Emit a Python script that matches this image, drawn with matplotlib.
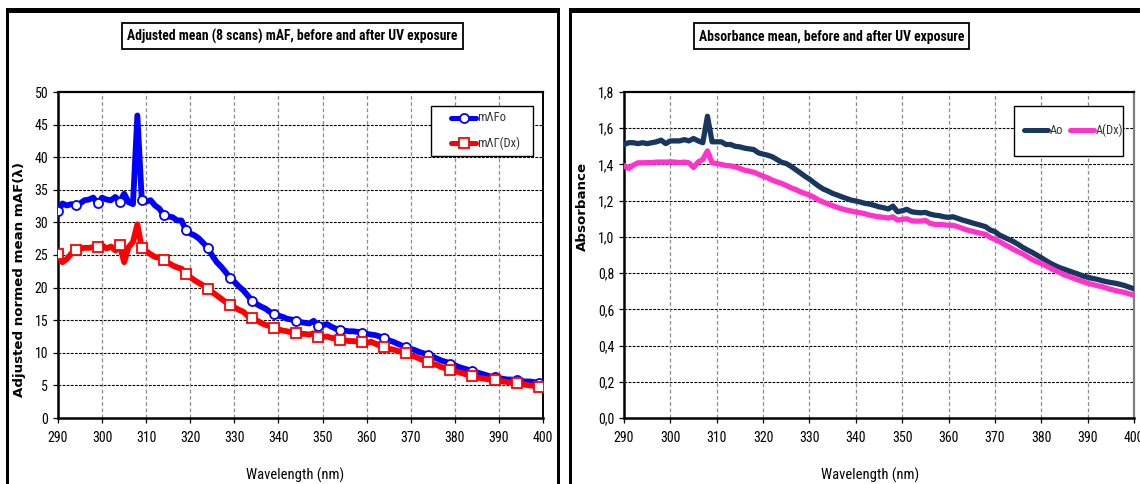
import matplotlib
matplotlib.use("Agg")
import matplotlib.pyplot as plt
from matplotlib import font_manager as fm
from matplotlib.patches import Rectangle
from matplotlib.lines import Line2D

# ---------------- data ----------------
wavelength = list(range(290, 401))

maf0 = [31.7, 32.9, 32.6, 32.8, 32.6, 32.9, 33.4, 33.5, 33.8, 32.9,
        33.8, 33.5, 33.4, 33.9, 33.2, 34.4, 33.1, 32.8, 46.4, 33.5,
        33.2, 33.4, 32.6, 32.1, 31.1, 30.9, 30.8, 30.3, 30.3, 28.8,
        28.3, 28.0, 27.5, 26.8, 26.1, 24.9, 23.9, 23.2, 22.4, 21.5,
        20.9, 20.2, 19.6, 18.8, 18.0, 17.5, 17.1, 16.8, 16.3, 16.0,
        15.7, 15.5, 15.2, 15.1, 14.9, 14.7, 14.6, 14.5, 14.9, 14.1,
        14.2, 14.4, 14.0, 13.7, 13.5, 13.4, 13.3, 13.3, 13.2, 13.0,
        12.9, 12.8, 12.7, 12.5, 12.3, 11.9, 11.7, 11.4, 11.1, 10.9,
        10.6, 10.4, 10.1, 9.9, 9.6, 9.4, 9.1, 8.8, 8.6, 8.3,
        8.1, 7.8, 7.6, 7.4, 7.2, 7.0, 6.8, 6.6, 6.4, 6.3,
        6.1, 6.0, 5.9, 5.9, 5.8, 5.7, 5.6, 5.6, 5.5, 5.4,
        5.3]

maf_dx = [25.2, 23.9, 24.4, 25.2, 25.8, 26.0, 26.1, 26.1, 26.2, 26.3,
          26.5, 26.0, 26.3, 25.7, 26.5, 23.9, 26.2, 27.0, 29.7, 26.0,
          25.6, 25.1, 24.7, 24.6, 24.3, 23.8, 23.4, 23.1, 22.9, 22.1,
          21.6, 21.1, 20.7, 20.3, 19.8, 19.3, 18.8, 18.3, 17.8, 17.4,
          17.0, 16.6, 16.3, 15.7, 15.3, 15.0, 14.6, 14.3, 14.1, 13.8,
          13.6, 13.4, 13.3, 13.1, 13.0, 12.9, 12.9, 12.8, 13.0, 12.4,
          12.4, 12.5, 12.3, 12.2, 12.0, 11.9, 11.8, 11.8, 11.7, 11.6,
          11.5, 11.7, 11.4, 11.1, 10.9, 10.6, 10.5, 10.3, 10.1, 9.9,
          9.6, 9.4, 9.1, 8.8, 8.6, 8.3, 8.1, 7.8, 7.6, 7.4,
          7.2, 7.0, 6.8, 6.6, 6.4, 6.2, 6.1, 6.0, 5.9, 5.8,
          5.7, 5.6, 5.5, 5.4, 5.3, 5.2, 5.1, 5.0, 4.9, 4.8,
          4.7]

marker_nm = [290, 294, 299, 304, 309, 314, 319, 324, 329, 334, 339, 344,
             349, 354, 359, 364, 369, 374, 379, 384, 389, 394, 399]

a0 = [1.510, 1.520, 1.520, 1.515, 1.520, 1.515, 1.520, 1.525, 1.534, 1.515,
      1.530, 1.530, 1.530, 1.537, 1.530, 1.543, 1.530, 1.520, 1.666, 1.525,
      1.525, 1.525, 1.510, 1.510, 1.500, 1.497, 1.490, 1.486, 1.482, 1.464,
      1.457, 1.451, 1.442, 1.427, 1.412, 1.405, 1.390, 1.372, 1.354, 1.335,
      1.319, 1.299, 1.280, 1.264, 1.253, 1.240, 1.231, 1.221, 1.212, 1.203,
      1.198, 1.192, 1.185, 1.181, 1.174, 1.166, 1.161, 1.154, 1.170, 1.139,
      1.144, 1.152, 1.139, 1.135, 1.133, 1.135, 1.126, 1.120, 1.117, 1.111,
      1.108, 1.111, 1.102, 1.093, 1.086, 1.078, 1.071, 1.064, 1.056, 1.038,
      1.029, 1.010, 0.998, 0.986, 0.974, 0.959, 0.942, 0.928, 0.915, 0.900,
      0.885, 0.869, 0.854, 0.841, 0.830, 0.821, 0.812, 0.803, 0.794, 0.784,
      0.777, 0.771, 0.766, 0.759, 0.753, 0.748, 0.744, 0.738, 0.731, 0.722,
      0.713]

a_dx = [1.392, 1.378, 1.396, 1.409, 1.409, 1.410, 1.410, 1.413, 1.413, 1.413,
        1.414, 1.413, 1.410, 1.413, 1.409, 1.383, 1.414, 1.427, 1.475, 1.409,
        1.405, 1.400, 1.394, 1.392, 1.387, 1.378, 1.368, 1.363, 1.357, 1.346,
        1.335, 1.326, 1.313, 1.304, 1.295, 1.284, 1.271, 1.262, 1.249, 1.240,
        1.231, 1.218, 1.203, 1.192, 1.181, 1.172, 1.163, 1.155, 1.148, 1.143,
        1.137, 1.133, 1.128, 1.120, 1.115, 1.111, 1.108, 1.104, 1.111, 1.093,
        1.097, 1.100, 1.089, 1.087, 1.087, 1.091, 1.075, 1.069, 1.069, 1.067,
        1.064, 1.064, 1.056, 1.047, 1.038, 1.032, 1.025, 1.019, 1.014, 0.997,
        0.986, 0.974, 0.959, 0.946, 0.931, 0.918, 0.906, 0.891, 0.876, 0.863,
        0.854, 0.841, 0.827, 0.814, 0.803, 0.790, 0.781, 0.771, 0.762, 0.753,
        0.744, 0.738, 0.731, 0.726, 0.718, 0.711, 0.704, 0.698, 0.693, 0.685,
        0.678]

left_title = "Adjusted mean (8 scans) mAF, before and after UV exposure"
right_title = "Absorbance mean, before and after UV exposure"
left_ylabel = "Adjusted normed mean mAF(λ)"
right_ylabel = "Absorbance"
xlabel = "Wavelength (nm)"
left_labels = ["mΛFo", "mΛΓ(Dx)"]
right_labels = ["Ao", "A(Dx)"]
x_ticks = list(range(290, 401, 10))
left_yticks = list(range(0, 51, 5))
right_yticks = [0.0, 0.2, 0.4, 0.6, 0.8, 1.0, 1.2, 1.4, 1.6, 1.8]

# ---------------- styling ----------------
W, H = 1140, 484
BLUE, RED = "#0000FF", "#FF0000"
NAVY, PINK = "#17375E", "#FF33CC"


def pick_narrow_font():
    entries = fm.fontManager.ttflist
    names = {f.name for f in entries}
    for cand in ("Liberation Sans Narrow", "Arial Narrow", "Roboto Condensed",
                 "Noto Sans Condensed", "Open Sans Condensed", "DejaVu Sans Condensed"):
        if cand in names:
            return dict(family=cand)
    narrow = ("condensed", "semi-condensed", "extra-condensed", "ultra-condensed")
    for f in entries:
        if f.stretch in narrow and "Sans" in f.name and "Mono" not in f.name:
            return dict(family=f.name, stretch=f.stretch)
    for cand in ("Noto Sans CJK JP", "Noto Sans CJK SC", "Liberation Sans"):
        if cand in names:
            return dict(family=cand)
    return dict(family="DejaVu Sans")


NARROW = pick_narrow_font()


def fx(x):
    return x / W


def fy(y):
    return 1 - y / H


def axes_box(x0, y0, x1, y1):
    return [fx(x0), fy(y1), (x1 - x0) / W, (y1 - y0) / H]


fig = plt.figure(figsize=(W / 100, H / 100), dpi=100)
fig.patch.set_facecolor("white")
renderer = fig.canvas.get_renderer()


# panel frames (thick black edges)
def frame_bar(x0, y0, x1, y1):
    fig.patches.append(Rectangle((fx(x0), fy(y1)), (x1 - x0) / W, (y1 - y0) / H,
                                 transform=fig.transFigure, facecolor="black",
                                 edgecolor="none", zorder=0))

frame_bar(6, 8, 560, 13)
frame_bar(6, 8, 9, 490)
frame_bar(557, 8, 560, 490)
frame_bar(569, 8, 1145, 13)
frame_bar(569, 8, 572, 490)


def style_axes(ax, yticks, ylabels, ylim):
    ax.set_xlim(290, 400)
    ax.set_ylim(*ylim)
    ax.set_xticks(x_ticks)
    ax.set_yticks(yticks)
    ax.set_yticklabels(ylabels)
    ax.set_xticklabels([str(t) for t in x_ticks])
    ax.grid(False)
    for t in yticks[1:-1]:
        ax.axhline(t, color="black", lw=0.8, ls=(0, (2.5, 1.2)), zorder=1)
    for t in x_ticks[1:-1]:
        ax.axvline(t, color="#8c8c8c", lw=0.9, ls=(0, (3, 2)), zorder=1)
    ax.tick_params(axis="both", direction="out", length=3.5, width=0.9,
                   color="black", labelsize=10)
    ax.tick_params(axis="x", pad=6)
    ax.tick_params(axis="y", pad=3.5)
    for lab in ax.get_xticklabels() + ax.get_yticklabels():
        lab.set(**NARROW)
    ax.spines["left"].set_linewidth(1.8)
    ax.spines["bottom"].set_linewidth(1.8)
    ax.spines["top"].set_linewidth(1.6)
    ax.spines["right"].set_linewidth(1.4)


# ---------------- left chart ----------------
axL = fig.add_axes(axes_box(58, 92, 543, 418))
marker_idx = [wavelength.index(n) for n in marker_nm]
axL.plot(wavelength, maf0, color=BLUE, lw=4.2, marker="o", markevery=marker_idx,
         ms=6.5, mfc="white", mec=BLUE, mew=1.3, zorder=3, solid_joinstyle="round")
axL.plot(wavelength, maf_dx, color=RED, lw=4.2, marker="s", markevery=marker_idx,
         ms=6.5, mfc="white", mec=RED, mew=1.3, zorder=3, solid_joinstyle="round")
style_axes(axL, left_yticks, [str(t) for t in left_yticks], (0, 50))
axL.spines["right"].set_color("black")
axL.set_ylabel(left_ylabel, family="DejaVu Sans", weight="bold", fontsize=9.6)
axL.yaxis.set_label_coords(-0.066, 0.425)
axL.set_xlabel(xlabel, fontsize=10.5, **NARROW)
axL.xaxis.set_label_coords(0.489, -0.152)

# ---------------- right chart ----------------
axR = fig.add_axes(axes_box(624, 92, 1134, 418))
axR.plot(wavelength, a0, color=NAVY, lw=3.8, zorder=3, solid_joinstyle="round")
axR.plot(wavelength, a_dx, color=PINK, lw=3.8, zorder=3, solid_joinstyle="round")
style_axes(axR, right_yticks, [f"{t:.1f}".replace(".", ",") for t in right_yticks],
           (0, 1.8))
axR.spines["right"].set_color("#7f7f7f")
axR.spines["right"].set_linewidth(1.6)
axR.set_ylabel(right_ylabel, family="DejaVu Sans", weight="bold", fontsize=9.6)
axR.yaxis.set_label_coords(-0.0696, 0.649)
axR.set_xlabel(xlabel, fontsize=10.5, **NARROW)
axR.xaxis.set_label_coords(0.482, -0.152)


# ---------------- titles in boxes ----------------
def title_box(cx, text, size):
    t = fig.text(fx(cx), fy(36.5), text, ha="center", va="center",
                 fontsize=size, weight="bold", zorder=6, **NARROW)
    w = t.get_window_extent(renderer).width
    x0, x1 = cx - w / 2 - 5, cx + w / 2 + 5
    fig.patches.append(Rectangle((fx(x0), fy(49)), (x1 - x0) / W, 26 / H,
                                 transform=fig.transFigure, facecolor="white",
                                 edgecolor="black", lw=1.3, zorder=5))

title_box(292.5, left_title, 9.8)
title_box(831.5, right_title, 9.8)


# ---------------- legends ----------------
def legend_frame(x0, y0, x1, y1):
    fig.patches.append(Rectangle((fx(x0), fy(y1)), (x1 - x0) / W, (y1 - y0) / H,
                                 transform=fig.transFigure, facecolor="white",
                                 edgecolor="black", lw=1.0, zorder=7))


def legend_entry(x0, x1, y, color, label, lw, marker=None, mcolor=None):
    fig.lines.append(Line2D([fx(x0), fx(x1)], [fy(y), fy(y)], transform=fig.transFigure,
                            color=color, lw=lw, solid_capstyle="round", zorder=8))
    if marker:
        fig.lines.append(Line2D([fx((x0 + x1) / 2)], [fy(y)], transform=fig.transFigure,
                                marker=marker, ms=6.5, mfc="white", mec=mcolor,
                                mew=1.3, ls="none", zorder=9))
    fig.text(fx(x1 + 1.5), fy(y), label, ha="left", va="center", fontsize=9,
             color="#333333", zorder=9, **NARROW)


legend_frame(431, 106, 533, 156)
legend_entry(451, 476, 117.5, BLUE, left_labels[0], 3.6, "o", BLUE)
legend_entry(451, 476, 143, RED, left_labels[1], 3.6, "s", RED)

legend_frame(1014, 106, 1123, 156)
legend_entry(1024, 1048, 130, NAVY, right_labels[0], 3.6)
legend_entry(1070, 1094, 130, PINK, right_labels[1], 3.6)

fig.savefig("out.png", dpi=100, facecolor="white")
